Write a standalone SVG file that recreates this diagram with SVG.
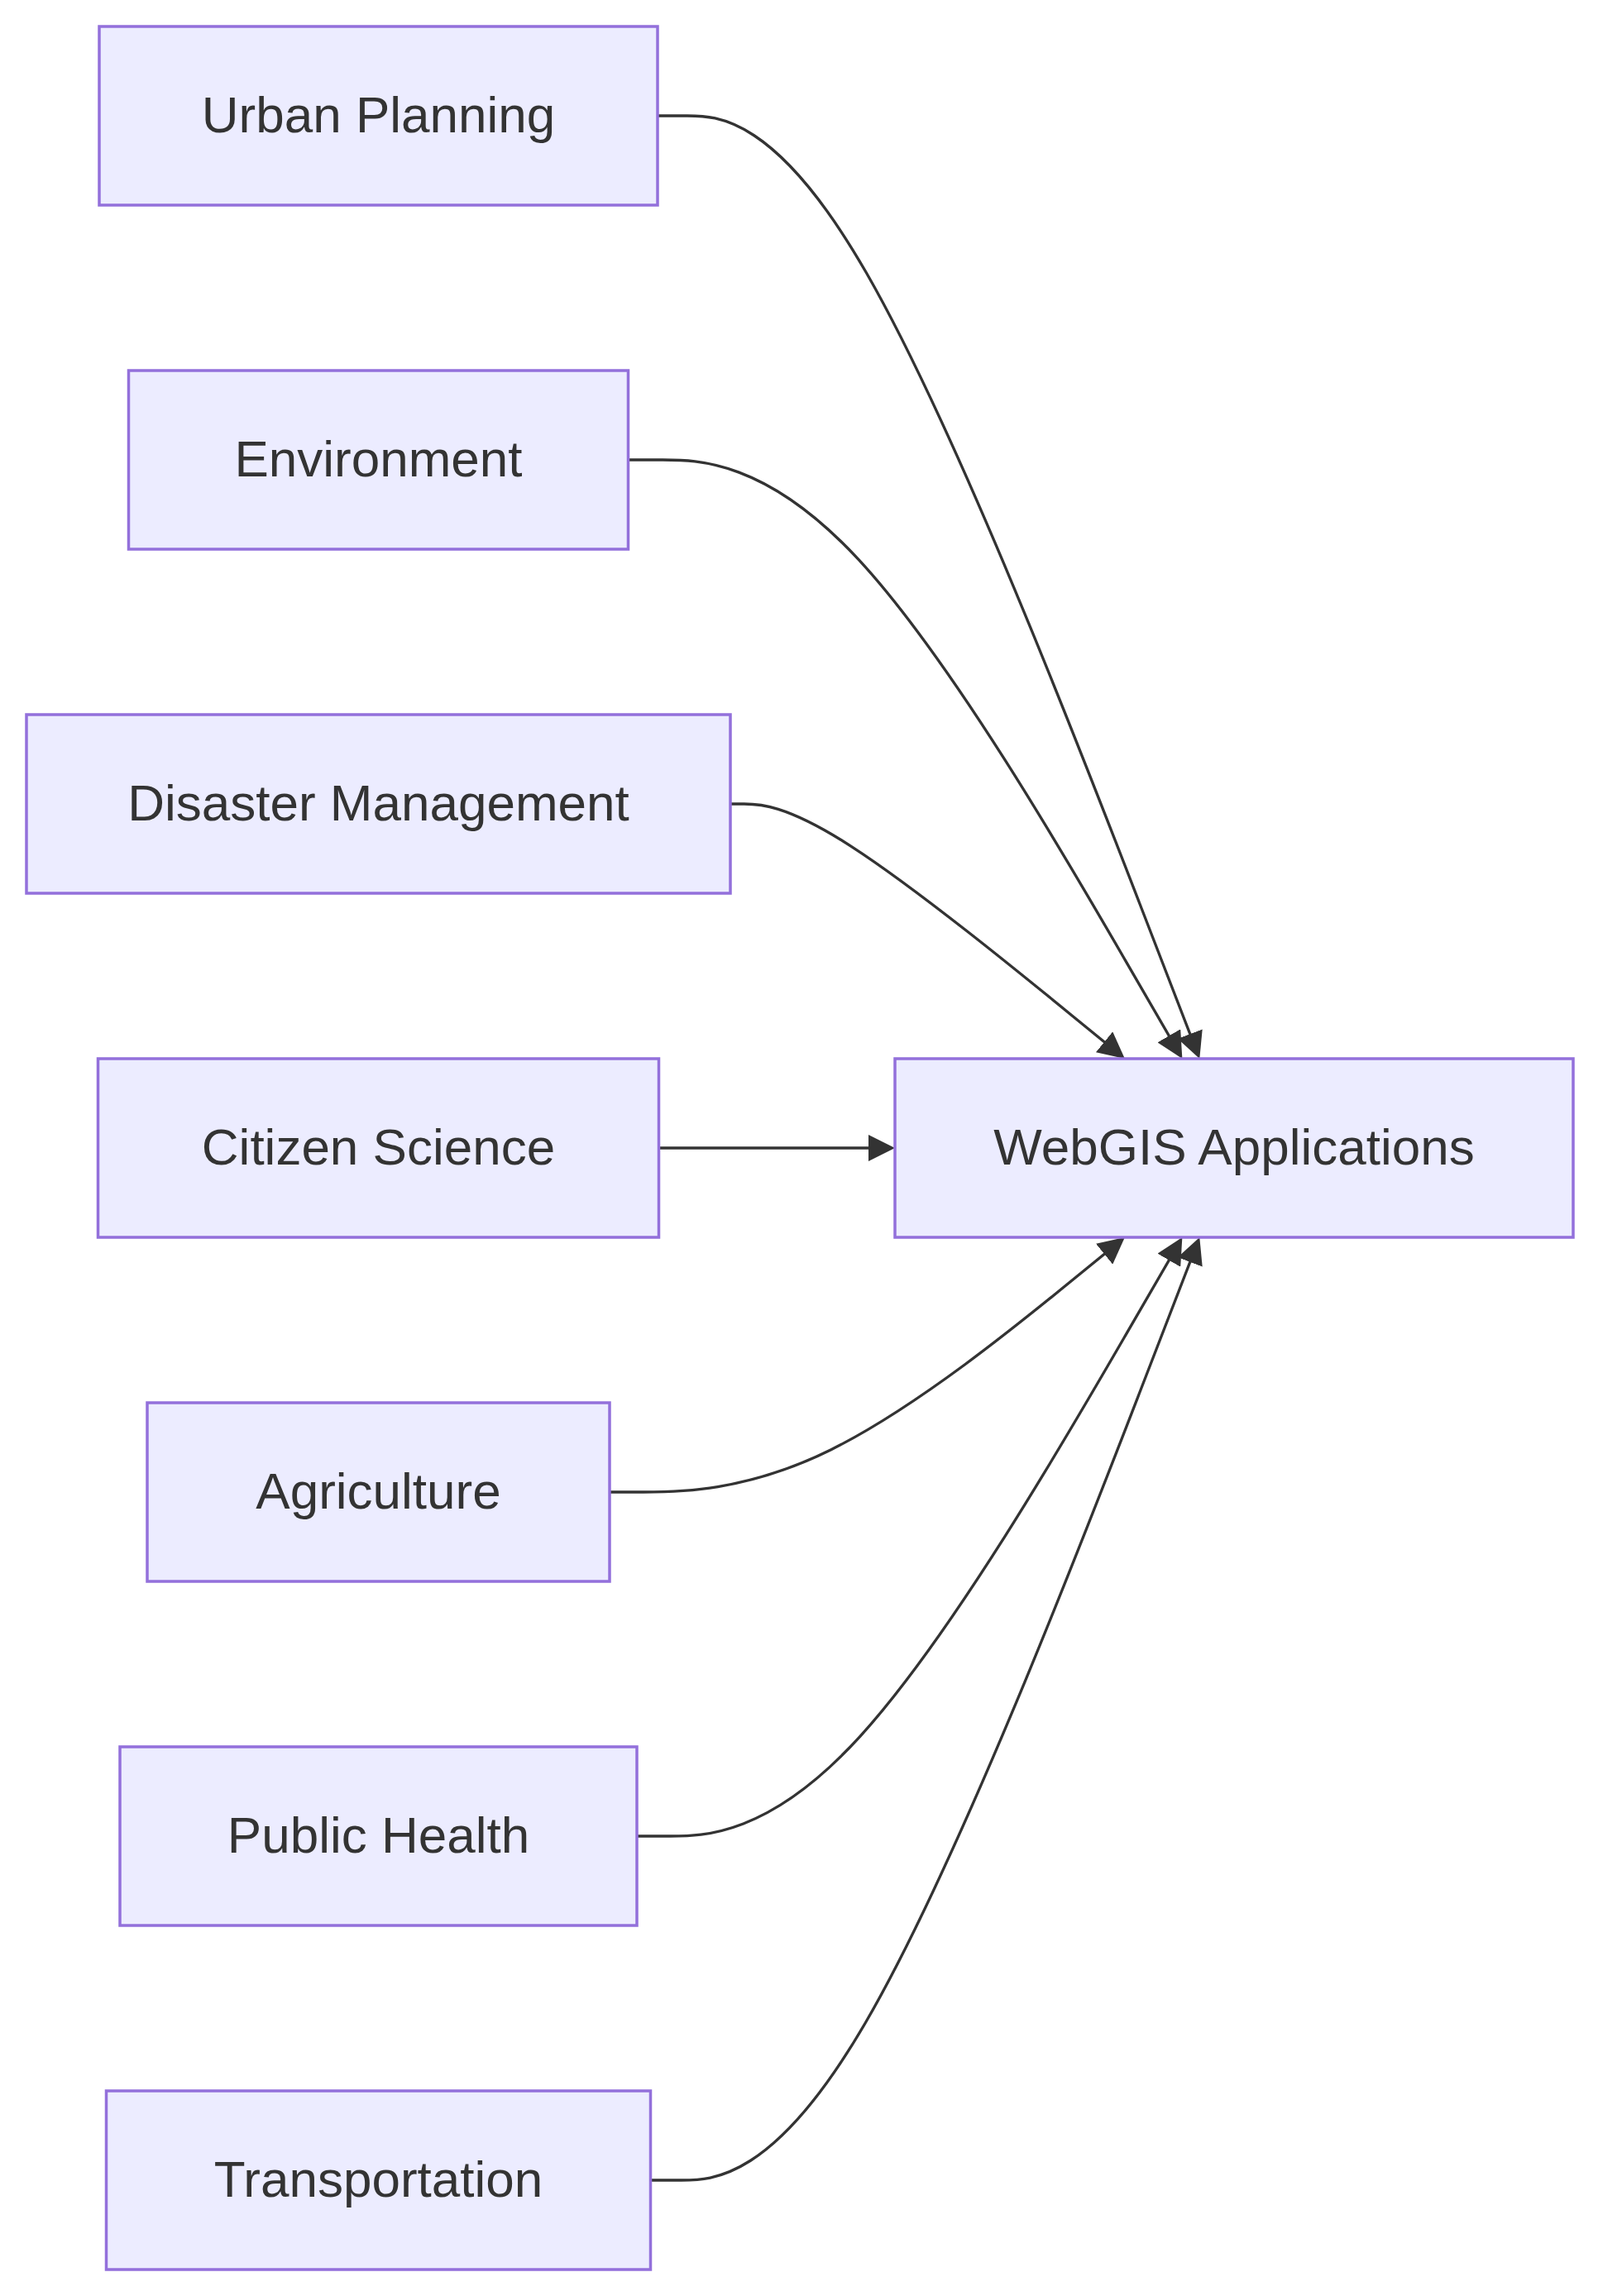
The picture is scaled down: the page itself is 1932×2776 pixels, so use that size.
<svg xmlns="http://www.w3.org/2000/svg" width="1932" height="2776" viewBox="0 0 1932 2776">
<style>
.node rect{fill:#ECECFF;stroke:#9370DB;stroke-width:3.5}
.node text{font-family:"Liberation Sans",Arial,sans-serif;font-size:62px;fill:#333333;text-anchor:middle}
.edge{fill:none;stroke:#333333;stroke-width:3.3}
</style>
<defs>
<marker id="arrow" viewBox="0 0 10 10" refX="8.44" refY="5" markerUnits="userSpaceOnUse" markerWidth="32" markerHeight="32" orient="auto">
<path d="M0,0 L10,5 L0,10 z" fill="#333333"/>
</marker>
</defs>
<rect width="1932" height="2776" fill="#ffffff"/>
<g id="connectors">
<path class="edge" marker-end="url(#arrow)" d="M795,140 L830.83,140 C866.67,140 938.33,140 1047.55,330 C1156.77,520 1303.53,900 1376.92,1090 L1448.5,1275.34"/>
<path class="edge" marker-end="url(#arrow)" d="M759.5,556 L801.25,556 C843,556 926.5,556 1038.15,676.67 C1149.8,797.33 1289.6,1038.67 1359.5,1159.33 L1426.89,1275.67"/>
<path class="edge" marker-end="url(#arrow)" d="M883,972 L899.67,972 C916.33,972 949.67,972 1029.15,1023.33 C1108.63,1074.67 1234.27,1177.33 1297.08,1228.67 L1356.03,1276.84"/>
<path class="edge" marker-end="url(#arrow)" d="M796.5,1388 L1077,1388"/>
<path class="edge" marker-end="url(#arrow)" d="M737,1804 L778,1804 C819,1804 901,1804 1004.82,1752.67 C1108.63,1701.33 1234.27,1598.67 1297.08,1547.33 L1356.03,1499.16"/>
<path class="edge" marker-end="url(#arrow)" d="M770,2220 L810,2220 C850,2220 930,2220 1039.9,2099.33 C1149.8,1978.67 1289.6,1737.33 1359.5,1616.67 L1426.89,1500.33"/>
<path class="edge" marker-end="url(#arrow)" d="M786.5,2636 L823.75,2636 C861,2636 935.5,2636 1046.13,2446 C1156.77,2256 1303.53,1876 1376.92,1686 L1448.5,1500.66"/>
</g>
<g id="urban-planning" class="node"><rect x="120" y="32" width="675" height="216"/><text x="457.5" y="160">Urban Planning</text></g>
<g id="environment" class="node"><rect x="155.5" y="448" width="604" height="216"/><text x="457.5" y="576">Environment</text></g>
<g id="disaster-management" class="node"><rect x="32" y="864" width="851" height="216"/><text x="457.5" y="992">Disaster Management</text></g>
<g id="citizen-science" class="node"><rect x="118.5" y="1280" width="678" height="216"/><text x="457.5" y="1408">Citizen Science</text></g>
<g id="agriculture" class="node"><rect x="178" y="1696" width="559" height="216"/><text x="457.5" y="1824">Agriculture</text></g>
<g id="public-health" class="node"><rect x="145" y="2112" width="625" height="216"/><text x="457.5" y="2240">Public Health</text></g>
<g id="transportation" class="node"><rect x="128.5" y="2528" width="658" height="216"/><text x="457.5" y="2656">Transportation</text></g>
<g id="webgis-applications" class="node"><rect x="1082" y="1280" width="820" height="216"/><text x="1492" y="1408">WebGIS Applications</text></g>
</svg>
